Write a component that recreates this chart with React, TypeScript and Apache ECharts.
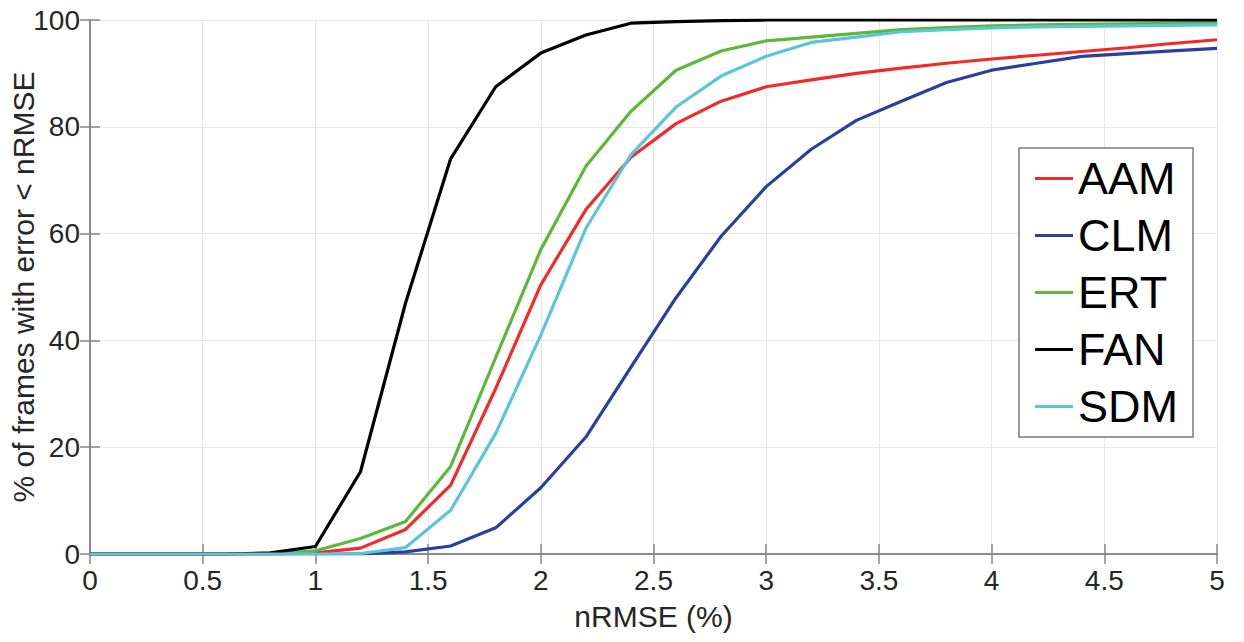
import React, { useEffect, useRef } from "react";
import * as echarts from "echarts";

const xValues = [0, 0.2, 0.4, 0.6, 0.8, 1.0, 1.2, 1.4, 1.6, 1.8, 2.0, 2.2, 2.4, 2.6, 2.8, 3.0, 3.2, 3.4, 3.6, 3.8, 4.0, 4.2, 4.4, 4.6, 4.8, 5.0];

const seriesNames = ["AAM", "CLM", "ERT", "FAN", "SDM"];

const aam = [0, 0, 0, 0, 0, 0.2, 1.1, 4.6, 12.9, 31, 50.4, 64.5, 74.3, 80.6, 84.8, 87.5, 88.8, 90.0, 91.0, 91.9, 92.7, 93.4, 94.1, 94.8, 95.6, 96.3];
const clm = [0, 0, 0, 0, 0, 0, 0, 0.4, 1.5, 4.9, 12.4, 21.9, 35, 48, 59.5, 68.8, 75.8, 81.2, 84.8, 88.3, 90.6, 91.9, 93.2, 93.7, 94.2, 94.7];
const ert = [0, 0, 0, 0, 0, 0.6, 2.9, 6.1, 16.4, 36.8, 57, 72.6, 82.9, 90.6, 94.2, 96.1, 96.8, 97.5, 98.2, 98.6, 98.9, 99.1, 99.2, 99.3, 99.4, 99.5];
const fan = [0, 0, 0, 0, 0.2, 1.4, 15.4, 47, 74, 87.5, 93.8, 97.2, 99.4, 99.7, 99.9, 100, 100, 100, 100, 100, 100, 100, 100, 100, 100, 100];
const sdm = [0, 0, 0, 0, 0, 0, 0.1, 1.2, 8.2, 22.6, 41, 61, 74.8, 83.7, 89.5, 93.2, 95.8, 96.8, 97.8, 98.2, 98.5, 98.7, 98.8, 98.9, 99, 99.1];

const seriesValues = [aam, clm, ert, fan, sdm];
const seriesColors = ["#f42a2a", "#2c3e9f", "#5cb83a", "#000000", "#5bc6d6"];

const xTitle = "nRMSE (%)";
const yTitle = "% of frames with error < nRMSE";

const axisGray = "#868686";
const labelColor = "#262626";
const fontFamily = "'Liberation Sans', Arial, Helvetica, sans-serif";

export default function App() {
  const ref = useRef<HTMLDivElement>(null);

  useEffect(() => {
    document.body.style.margin = "0";
    if (!ref.current) return;
    const chart = echarts.init(ref.current, null, { renderer: "svg" });

    const baseX = {
      type: "value" as const,
      min: 0,
      max: 5,
      interval: 0.5,
    };
    const baseY = {
      type: "value" as const,
      min: 0,
      max: 100,
      interval: 20,
    };

    chart.setOption({
      animation: false,
      backgroundColor: "#ffffff",
      grid: { left: 90, right: 27, top: 20, bottom: 88, containLabel: false, outerBoundsMode: "none" },
      xAxis: [
        {
          ...baseX,
          position: "bottom",
          name: xTitle,
          nameLocation: "middle",
          nameGap: 47,
          nameMoveOverlap: false,
          nameTextStyle: { fontSize: 30, color: labelColor, fontFamily },
          axisLine: { show: true, lineStyle: { color: axisGray, width: 1.5 } },
          axisTick: { show: true, inside: true, length: 10, lineStyle: { color: axisGray, width: 1.5 } },
          axisLabel: { show: true, margin: 12, fontSize: 28, color: labelColor, fontFamily },
          splitLine: { show: true, lineStyle: { color: "#e6e6e6", width: 1 } },
        },
        {
          ...baseX,
          position: "top",
          axisLine: { show: true, lineStyle: { color: axisGray, width: 1.5 } },
          axisTick: { show: true, inside: true, length: 10, lineStyle: { color: axisGray, width: 1.5 } },
          axisLabel: { show: false },
          splitLine: { show: false },
        },
      ],
      yAxis: [
        {
          ...baseY,
          position: "left",
          name: yTitle,
          nameLocation: "middle",
          nameGap: 52,
          nameMoveOverlap: false,
          nameTextStyle: { fontSize: 30, color: labelColor, fontFamily },
          axisLine: { show: true, lineStyle: { color: axisGray, width: 1.5 } },
          axisTick: { show: true, inside: true, length: 10, lineStyle: { color: axisGray, width: 1.5 } },
          axisLabel: { show: true, margin: 10, fontSize: 28, color: labelColor, fontFamily },
          splitLine: { show: true, lineStyle: { color: "#e6e6e6", width: 1 } },
        },
        {
          ...baseY,
          position: "right",
          axisLine: { show: true, lineStyle: { color: axisGray, width: 1.5 } },
          axisTick: { show: true, inside: true, length: 10, lineStyle: { color: axisGray, width: 1.5 } },
          axisLabel: { show: false },
          splitLine: { show: false },
        },
      ],
      legend: {
        orient: "vertical",
        left: 1019,
        top: 148,
        icon: "rect",
        itemWidth: 38,
        itemHeight: 3,
        itemGap: 0,
        itemTextGap: 4,
        padding: [2, 15, 2, 16],
        borderColor: "#7a7a7a",
        borderWidth: 1.5,
        backgroundColor: "#ffffff",
        textStyle: { fontSize: 45, lineHeight: 57, color: "#000000", fontFamily },
        data: seriesNames,
      },
      series: seriesNames.map((name, i) => ({
        name,
        type: "line",
        xAxisIndex: 0,
        yAxisIndex: 0,
        data: xValues.map((x, j) => [x, seriesValues[i][j]]),
        symbol: "none",
        showSymbol: false,
        lineStyle: { color: seriesColors[i], width: 3.2 },
        itemStyle: { color: seriesColors[i] },
        z: 2 + i,
      })),
    });

    return () => {
      chart.dispose();
    };
  }, []);

  return <div ref={ref} style={{ width: 1244, height: 642 }} />;
}
